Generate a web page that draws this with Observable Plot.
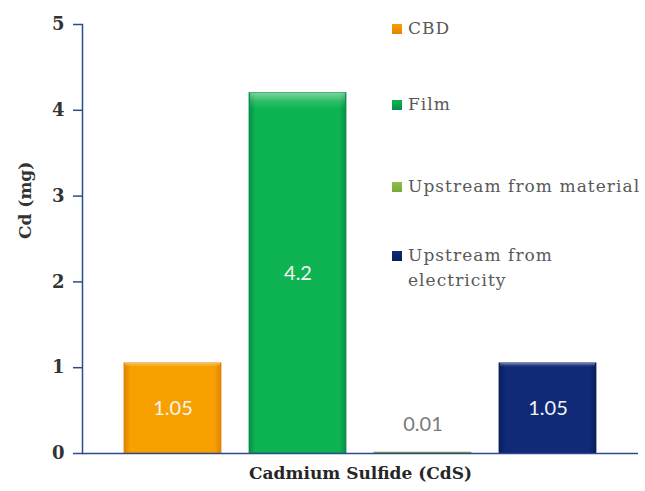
<!DOCTYPE html>
<html>
<head>
<meta charset="utf-8">
<script src="https://cdn.jsdelivr.net/npm/d3@7"></script>
<script src="https://cdn.jsdelivr.net/npm/@observablehq/plot@0.6"></script>
<style>
  html, body { margin: 0; padding: 0; background: #fff; }
  #wrap { position: relative; width: 645px; height: 491px; overflow: hidden; }
  #legend { position: absolute; left: 0; top: 0; font-family: "DejaVu Serif", "Liberation Serif", serif; font-size: 17px; color: #595959; letter-spacing: 1.05px; }
  .item { position: absolute; left: 392px; line-height: 25px; white-space: nowrap; }
  .sw { position: absolute; left: 0; top: 8px; width: 10px; height: 10px; box-sizing: border-box; }
  .lab { position: absolute; left: 16px; top: 0; }
</style>
</head>
<body>
<div id="wrap"></div>
<script>
// ---- data ----
const categories = ["CBD", "Film", "Upstream from material", "Upstream from electricity"];
const values = [1.05, 4.2, 0.01, 1.05];
const valueLabels = ["1.05", "4.2", "0.01", "1.05"];
const legendLines = [["CBD"], ["Film"], ["Upstream from material"], ["Upstream from", "electricity"]];
const yTicks = [0, 1, 2, 3, 4, 5];
const xTitle = "Cadmium Sulfide (CdS)";
const yTitle = "Cd (mg)";

// ---- styles ----
const serif = "'DejaVu Serif', 'Liberation Serif', serif";
const baseColors = ["#f7a000", "#0fb452", "#8fbf4d", "#102a78"];
const edgeColors = ["#e08400", "#06904a", "#77a83c", "#0a1d5c"];
const gradIds = categories.map((c, i) => "grad" + i);

const data = categories.map((c, i) => ({category: c, value: values[i], label: valueLabels[i]}));
const inside = data.filter(d => d.value > 0.5);
const outside = data.filter(d => d.value <= 0.5);

const axisColor = "#2d4a8c";

const chart = Plot.plot({
  width: 645,
  height: 491,
  marginTop: 24,
  marginBottom: 38,
  marginLeft: 82,
  marginRight: 7,
  style: {fontFamily: serif, background: "transparent", overflow: "visible"},
  x: {domain: categories, paddingInner: 0.223, paddingOuter: 0.327, axis: null},
  y: {domain: [0, 5], axis: null},
  color: {domain: categories, range: gradIds.map(id => `url(#${id})`)},
  marks: [
    Plot.barY(data, {x: "category", y: "value", fill: "category", stroke: "category", strokeWidth: 0.8}),
    Plot.barY(data, {x: "category", y: "value", fill: "url(#hl)", insetLeft: 1, insetRight: 1}),
    Plot.ruleY([0], {stroke: axisColor, strokeWidth: 1.5}),
    Plot.frame({anchor: "left", stroke: axisColor, strokeWidth: 1.5}),
    Plot.axisY({ticks: yTicks, tickFormat: d3.format("d"), tickSize: 9, tickPadding: 9, stroke: axisColor, strokeWidth: 1.5,
      fontSize: 18, fontWeight: "bold", fill: "#333", label: null}),
    Plot.text([yTitle], {frameAnchor: "left", rotate: -90, dx: -57, fontSize: 17, fontWeight: "bold", fill: "#333",
      fontFamily: serif, letterSpacing: 1}),
    Plot.text([xTitle], {frameAnchor: "bottom", dy: 25, fontSize: 17, fontWeight: "bold", fill: "#262626",
      fontFamily: serif, letterSpacing: 0.6}),
    Plot.text(inside, {x: "category", y: d => d.value / 2, text: "label", fill: "#f4f4f4",
      fontFamily: "Lato, 'Open Sans', sans-serif", fontSize: 20}),
    Plot.text(outside, {x: "category", y: "value", text: "label", dy: -28, fill: "#7a7a7a",
      fontFamily: "Lato, 'Open Sans', sans-serif", fontSize: 20})
  ]
});

// gradients for the bevelled bars
const ns = "http://www.w3.org/2000/svg";
const defs = document.createElementNS(ns, "defs");
gradIds.forEach((id, i) => {
  const g = document.createElementNS(ns, "linearGradient");
  g.setAttribute("id", id);
  g.setAttribute("x1", "0"); g.setAttribute("y1", "0"); g.setAttribute("x2", "1"); g.setAttribute("y2", "0");
  [[0, edgeColors[i]], [0.07, baseColors[i]], [0.93, baseColors[i]], [1, edgeColors[i]]].forEach(([o, c]) => {
    const s = document.createElementNS(ns, "stop");
    s.setAttribute("offset", o); s.setAttribute("stop-color", c);
    g.appendChild(s);
  });
  defs.appendChild(g);
});
const hl = document.createElementNS(ns, "linearGradient");
hl.setAttribute("id", "hl");
hl.setAttribute("x1", "0"); hl.setAttribute("y1", "0"); hl.setAttribute("x2", "0"); hl.setAttribute("y2", "1");
[[0, 0.45], [0.025, 0.12], [0.045, 0]].forEach(([o, a]) => {
  const s = document.createElementNS(ns, "stop");
  s.setAttribute("offset", o); s.setAttribute("stop-color", "#ffffff"); s.setAttribute("stop-opacity", a);
  hl.appendChild(s);
});
defs.appendChild(hl);
chart.insertBefore(defs, chart.firstChild);
const barGroups = chart.querySelectorAll("g[aria-label='bar']");
if (barGroups.length) {
  barGroups[0].querySelectorAll("rect").forEach((r, i) => r.setAttribute("stroke", edgeColors[i]));
}

const wrap = document.getElementById("wrap");
wrap.appendChild(chart);

// legend
const legendTop = [16, 92, 174, 243];
const legend = document.createElement("div");
legend.id = "legend";
categories.forEach((c, i) => {
  const it = document.createElement("div");
  it.className = "item";
  it.style.top = legendTop[i] + "px";
  const sw = document.createElement("div");
  sw.className = "sw";
  sw.style.background = `linear-gradient(${baseColors[i]}, ${edgeColors[i]})`;
  it.appendChild(sw);
  const lab = document.createElement("div");
  lab.className = "lab";
  lab.innerHTML = legendLines[i].join("<br>");
  it.appendChild(lab);
  legend.appendChild(it);
});
wrap.appendChild(legend);
</script>
</body>
</html>
